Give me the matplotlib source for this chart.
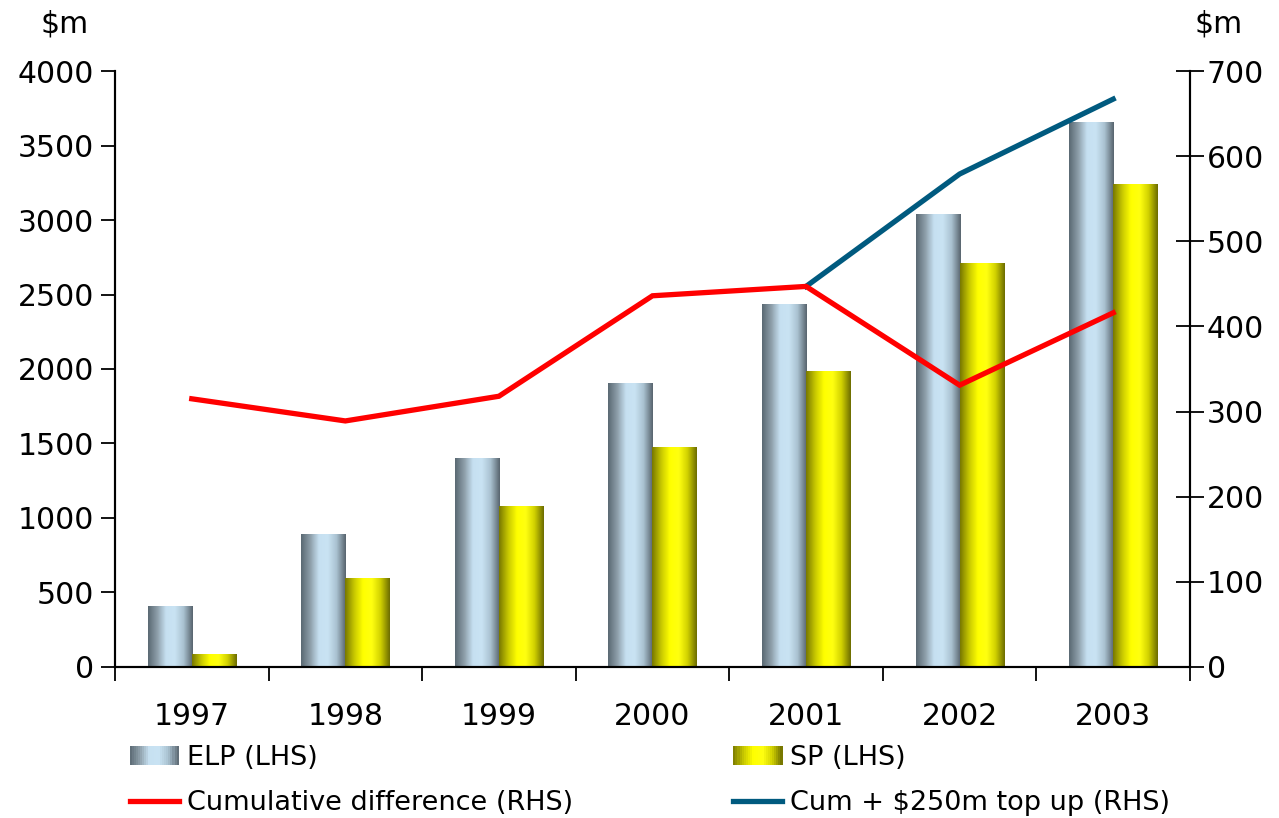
import numpy as np
import matplotlib.pyplot as plt
from matplotlib.colors import LinearSegmentedColormap
from matplotlib.patches import Rectangle
from matplotlib.lines import Line2D
from matplotlib.legend_handler import HandlerBase

plt.rcParams['font.family'] = ['DejaVu Sans']

# data ($m)
years = ['1997', '1998', '1999', '2000', '2001', '2002', '2003']
elp = [405, 890, 1400, 1900, 2435, 3040, 3655]
sp = [85, 595, 1080, 1470, 1985, 2710, 3240]
cum_diff = [315, 289, 318, 436, 447, 331, 416]
topup_years = ['2001', '2002', '2003']
cum_topup = [447, 579, 667]

# cylinder-like shading for the bars
elp_cmap = LinearSegmentedColormap.from_list(
    'elp', ['#5b6a74', '#8d9ea9', '#c6e0f1', '#c9e3f3', '#a9c1d0', '#5a6670'])
sp_cmap = LinearSegmentedColormap.from_list(
    'sp', ['#7a7a00', '#c8c800', '#ffff00', '#ffff10', '#d0d000', '#6e6e00'])


class GradientHandler(HandlerBase):
    def __init__(self, cmap):
        super().__init__()
        self.cmap = cmap

    def create_artists(self, legend, orig_handle, xdescent, ydescent,
                       width, height, fontsize, trans):
        n = 24
        arts = []
        for i in range(n):
            r = Rectangle((-xdescent + i * width / n, -ydescent), width / n + 0.3, height,
                          facecolor=self.cmap((i + 0.5) / n), edgecolor='none',
                          transform=trans)
            arts.append(r)
        return arts


fig = plt.figure(figsize=(12.79, 8.18), dpi=100)
ax = fig.add_axes([0.0899, 0.1846, 0.8405, 0.7286])
ax2 = ax.twinx()

x = np.arange(len(years))
w = 0.287
b1 = ax.bar(x - w / 2, elp, w, color='none', edgecolor='none')
b2 = ax.bar(x + w / 2, sp, w, color='none', edgecolor='none')

grad = np.linspace(0, 1, 64).reshape(1, -1)
for bars, cmap in [(b1, elp_cmap), (b2, sp_cmap)]:
    for p in bars:
        x0, y0 = p.get_x(), p.get_y()
        ax.imshow(grad, extent=[x0, x0 + p.get_width(), y0, y0 + p.get_height()],
                  aspect='auto', cmap=cmap, zorder=2, interpolation='bilinear')

ax.set_xlim(-0.5, len(years) - 0.5)
ax.set_ylim(0, 4000)
ax.set_yticks(np.arange(0, 4001, 500))
ax.set_xticks(x)
ax.set_xticklabels(years)
ax.set_xticks(np.arange(-0.5, len(years), 1), minor=True)

xi = {y: i for i, y in enumerate(years)}
ax2.plot(x, cum_diff, color='#ff0000', lw=3.8, solid_joinstyle='miter', zorder=4)
ax2.plot([xi[y] for y in topup_years], cum_topup, color='#005a7f', lw=3.8, zorder=3)
ax2.set_ylim(0, 700)
ax2.set_yticks(np.arange(0, 701, 100))

for a in (ax, ax2):
    a.spines['top'].set_visible(False)
    for s in a.spines.values():
        s.set_linewidth(1.5)
        s.set_color('black')

fs = 21.5
ax.tick_params(axis='y', direction='out', length=10, width=1.3, labelsize=fs, pad=5)
ax.tick_params(axis='x', which='major', length=0, labelsize=fs, pad=25)
ax.tick_params(axis='x', which='minor', direction='out', length=10, width=1.3)
ax2.tick_params(axis='y', direction='inout', length=20, width=1.3, labelsize=fs, pad=2)

ax.text(-0.047, 1.055, '$m', transform=ax.transAxes, fontsize=fs, ha='center', va='bottom')
ax2.text(1.027, 1.055, '$m', transform=ax2.transAxes, fontsize=fs, ha='center', va='bottom')

handles = [Rectangle((0, 0), 1, 1),
           Line2D([], [], color='#ff0000', lw=3.8),
           Rectangle((0, 0), 1, 1),
           Line2D([], [], color='#005a7f', lw=3.8)]
labels = ['ELP (LHS)', 'Cumulative difference (RHS)', 'SP (LHS)', 'Cum + $250m top up (RHS)']
fig.legend(handles, labels, loc='upper left', bbox_to_anchor=(0.1015, 0.089), ncol=2,
           frameon=False, fontsize=19.5, handlelength=1.8, handletextpad=0.3,
           columnspacing=5.93, labelspacing=0.7, borderaxespad=0, borderpad=0,
           handler_map={handles[0]: GradientHandler(elp_cmap),
                        handles[2]: GradientHandler(sp_cmap)})

fig.savefig('out.png', dpi=100)
